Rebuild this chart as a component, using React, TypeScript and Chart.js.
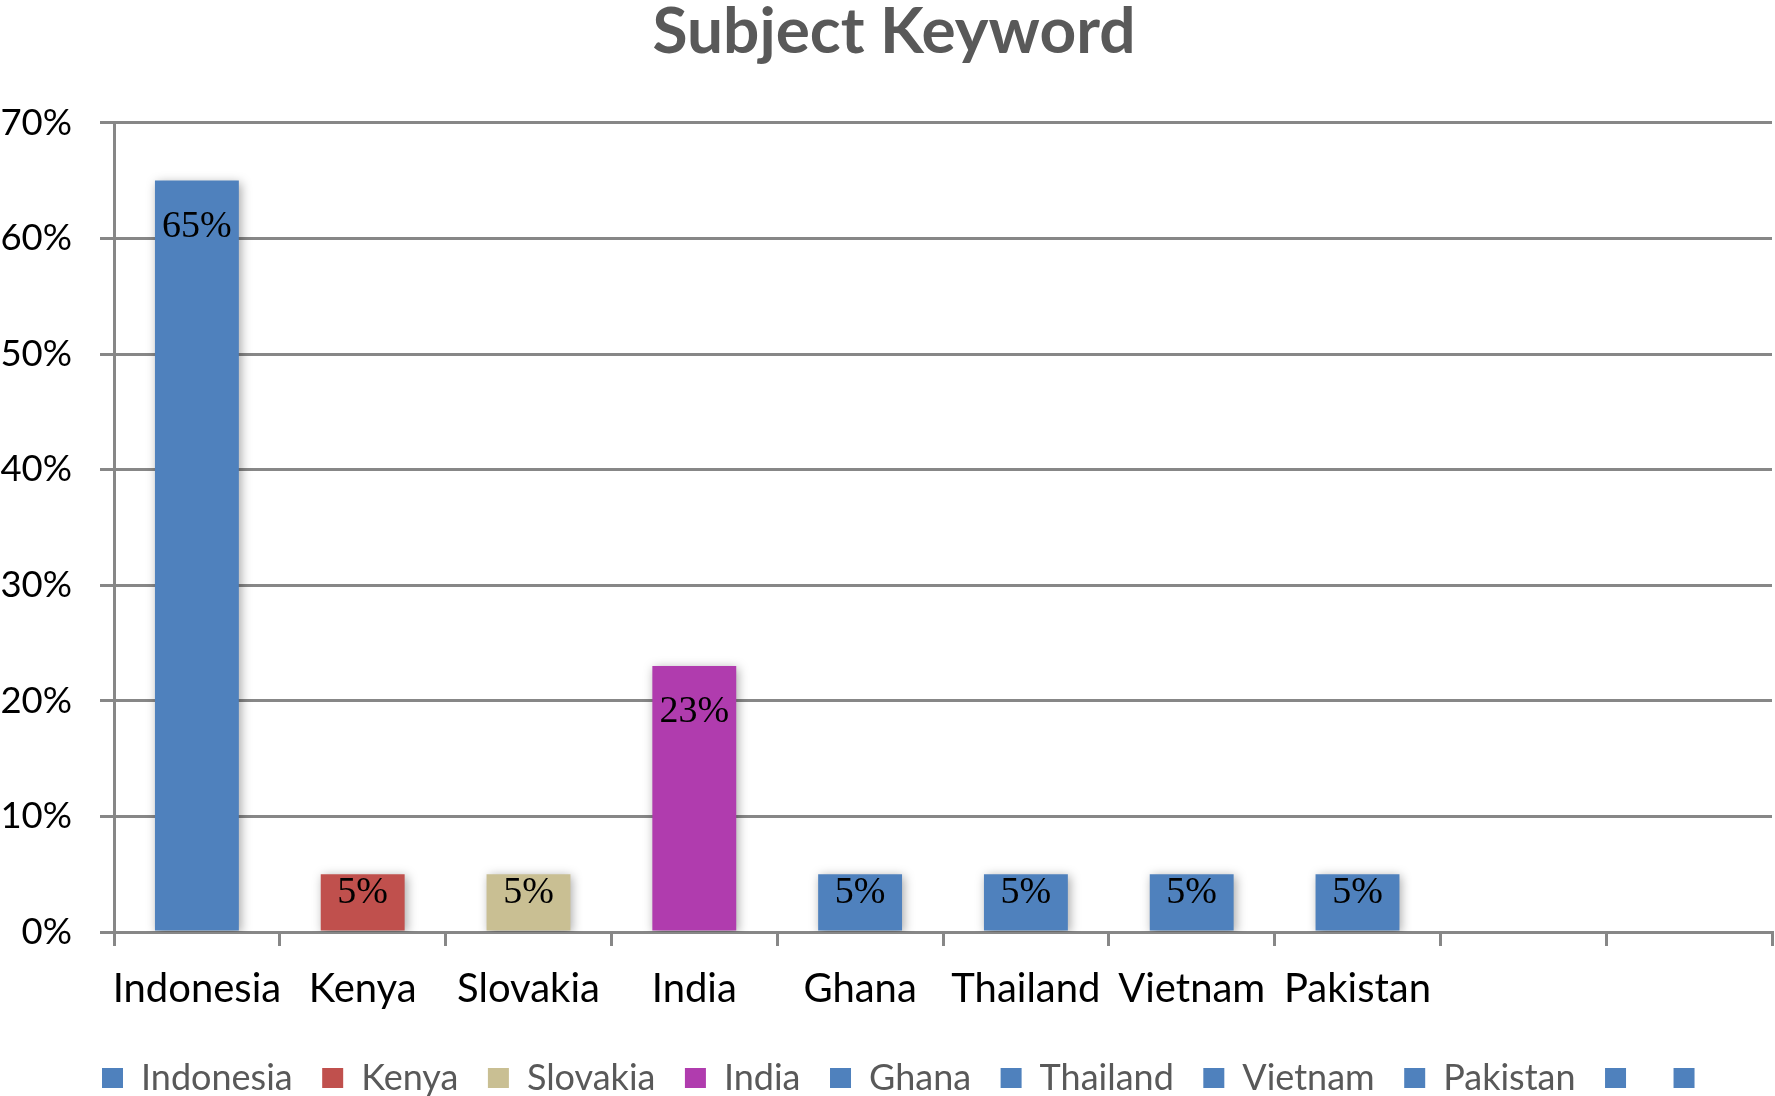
import React, { useEffect, useRef } from 'react';
import { Chart, registerables } from 'chart.js';

Chart.register(...registerables);

const titleText = 'Subject Keyword';
const categories = ['Indonesia', 'Kenya', 'Slovakia', 'India', 'Ghana', 'Thailand', 'Vietnam', 'Pakistan', '', ''];
const values: (number | null)[] = [65, 5, 5, 23, 5, 5, 5, 5, null, null];
const barColors = ['#4F81BD', '#C0504D', '#C9BF93', '#B03CAE', '#4F81BD', '#4F81BD', '#4F81BD', '#4F81BD', '#4F81BD', '#4F81BD'];
const yTicks = [0, 10, 20, 30, 40, 50, 60, 70];

const GRID = '#878787';

const shadowPlugin = {
  id: 'barShadow',
  beforeDatasetsDraw(chart: any) {
    const ctx = chart.ctx;
    ctx.save();
    ctx.shadowColor = 'rgba(0,0,0,0.35)';
    ctx.shadowBlur = 10;
    ctx.shadowOffsetX = 2;
    ctx.shadowOffsetY = 2;
  },
  afterDatasetsDraw(chart: any) {
    chart.ctx.restore();
  },
};

const labelsPlugin = {
  id: 'barLabels',
  afterDatasetsDraw(chart: any) {
    const ctx = chart.ctx;
    const meta = chart.getDatasetMeta(0);
    ctx.save();
    ctx.font = "38px 'Liberation Serif', 'Times New Roman', serif";
    ctx.fillStyle = '#000';
    ctx.textAlign = 'center';
    ctx.textBaseline = 'middle';
    meta.data.forEach((bar: any, i: number) => {
      const v = values[i];
      if (v == null) return;
      const { x, y, base } = bar.getProps(['x', 'y', 'base'], true);
      const h = base - y;
      const cy = y + Math.min(46, 0.33 * h);
      ctx.fillText(v + '%', x, cy);
    });
    ctx.restore();
  },
};

// nudge title / legend horizontally to match the original's placement
const shiftPlugin = {
  id: 'shiftBlocks',
  afterLayout(chart: any) {
    const t = chart.titleBlock;
    if (t) {
      t.left += 8;
      t.right += 8;
    }
    const lg = chart.legend;
    if (lg && lg.lineWidths) {
      const pad = lg.options.labels.padding;
      const start = (lg.left + pad + lg.right - lg.lineWidths[0]) / 2;
      const dx = 102 - start;
      lg.left += dx;
      lg.right += dx;
    }
  },
};

export default function App() {
  const ref = useRef<HTMLCanvasElement | null>(null);

  useEffect(() => {
    if (!ref.current) return;
    const chart = new Chart(ref.current, {
      type: 'bar',
      data: {
        labels: categories,
        datasets: [
          {
            data: values as any,
            backgroundColor: barColors,
            borderWidth: 0,
            categoryPercentage: 1,
            barPercentage: 0.506,
          },
        ],
      },
      options: {
        responsive: false,
        animation: false,
        events: [],
        layout: { padding: { left: 0, right: 3, top: 0, bottom: -10 } },
        plugins: {
          tooltip: { enabled: false },
          title: {
            display: true,
            text: titleText,
            color: '#595959',
            font: { family: 'Lato', size: 64, weight: 'bold' },
            padding: { top: -6, bottom: 52 },
          },
          legend: {
            display: true,
            position: 'bottom',
            onClick: () => {},
            labels: {
              boxWidth: 21,
              boxHeight: 20,
              padding: 29.5,
              color: '#595959',
              font: { family: 'Lato', size: 36 },
              generateLabels: () =>
                categories.map((c, i) => ({
                  text: c,
                  fillStyle: barColors[i],
                  strokeStyle: barColors[i],
                  lineWidth: 0,
                  hidden: false,
                  index: i,
                  fontColor: '#595959',
                })),
            },
          },
        },
        scales: {
          x: {
            type: 'category',
            offset: true,
            grid: {
              display: true,
              offset: true,
              drawOnChartArea: false,
              drawTicks: true,
              tickLength: 14,
              color: GRID,
              lineWidth: 3,
            },
            border: { display: true, color: GRID, width: 3 },
            ticks: {
              color: '#000',
              font: { family: 'Lato', size: 40 },
              padding: 19,
              maxRotation: 0,
              autoSkip: false,
            },
            afterFit: (scale: any) => {
              scale.height = 98.5;
            },
          },
          y: {
            min: 0,
            max: 70,
            grid: {
              color: GRID,
              lineWidth: 3,
              drawTicks: true,
              tickLength: 14,
            },
            border: { display: true, color: GRID, width: 3 },
            ticks: {
              color: '#000',
              font: { family: 'Lato', size: 36.5 },
              padding: 28,
              callback: (v: any) => v + '%',
            },
            afterBuildTicks: (scale: any) => {
              scale.ticks = yTicks.map((v) => ({ value: v }));
            },
            afterFit: (scale: any) => {
              scale.width = 114;
            },
          },
        },
      } as any,
      plugins: [shadowPlugin, labelsPlugin, shiftPlugin],
    });
    return () => chart.destroy();
  }, []);

  return (
    <div style={{ position: 'fixed', left: 0, top: 0, width: 1775, height: 1096, background: '#fff' }}>
      <canvas ref={ref} width={1775} height={1096} style={{ width: 1775, height: 1096, display: 'block' }} />
    </div>
  );
}
